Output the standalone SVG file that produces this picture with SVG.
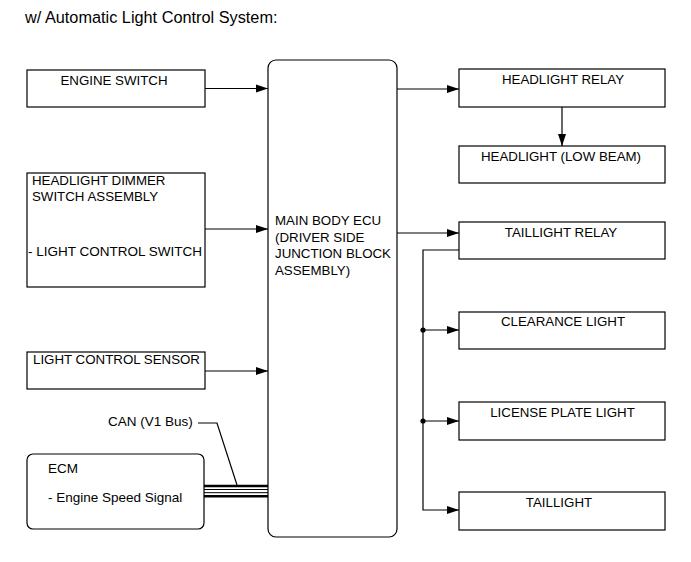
<svg xmlns="http://www.w3.org/2000/svg" width="691" height="562" viewBox="0 0 691 562">
<style>
text{font-family:"Liberation Sans",Arial,sans-serif;font-size:13.3px;fill:#000}
.box{fill:#fff;stroke:#000;stroke-width:1.2}
.c{text-anchor:middle}
.ln{fill:none;stroke:#000;stroke-width:1.2}
.bus{stroke:#000;fill:none}
</style>
<defs>
<marker id="ah" markerUnits="userSpaceOnUse" markerWidth="13" markerHeight="9" refX="12" refY="4.5" orient="auto">
<path d="M0,0.5 L12,4.5 L0,8.5 z" fill="#000"/>
</marker>
</defs>
<rect width="691" height="562" fill="#fff"/>
<text x="25" y="23" style="font-size:16.3px">w/ Automatic Light Control System:</text>

<g id="connectors">
<line class="ln" x1="205" y1="88.5" x2="268" y2="88.5" marker-end="url(#ah)"/>
<line class="ln" x1="205" y1="229" x2="268" y2="229" marker-end="url(#ah)"/>
<line class="ln" x1="205" y1="371" x2="268" y2="371" marker-end="url(#ah)"/>
<line class="ln" x1="397" y1="89" x2="459" y2="89" marker-end="url(#ah)"/>
<line class="ln" x1="562" y1="107" x2="562" y2="146" marker-end="url(#ah)"/>
<line class="ln" x1="397" y1="233" x2="459" y2="233" marker-end="url(#ah)"/>
<polyline class="ln" points="459,250 423,250 423,510 459,510" marker-end="url(#ah)"/>
<line class="ln" x1="423" y1="330" x2="459" y2="330" marker-end="url(#ah)"/>
<line class="ln" x1="423" y1="421" x2="459" y2="421" marker-end="url(#ah)"/>
<circle cx="423" cy="330" r="2.6" fill="#000"/>
<circle cx="423" cy="421" r="2.6" fill="#000"/>
<line class="bus" x1="204" y1="486" x2="268" y2="486" stroke-width="2.4"/>
<line class="bus" x1="204" y1="489.5" x2="268" y2="489.5" stroke-width="1"/>
<line class="bus" x1="204" y1="492.7" x2="268" y2="492.7" stroke-width="1"/>
<line class="bus" x1="204" y1="496.2" x2="268" y2="496.2" stroke-width="2.4"/>
<polyline class="ln" points="198,423 217,423 237,485" stroke-width="1"/>
<text x="108" y="426" style="font-size:13.5px">CAN (V1 Bus)</text>
</g>

<g id="engine-switch">
<rect class="box" x="27" y="70" width="178" height="37"/>
<text class="c" x="114" y="85">ENGINE SWITCH</text>
</g>
<g id="headlight-dimmer">
<rect class="box" x="27" y="173" width="178" height="114"/>
<text x="32" y="185">HEADLIGHT DIMMER</text>
<text x="32" y="200.5">SWITCH ASSEMBLY</text>
<text x="28" y="255.5" style="font-size:13.5px">- LIGHT CONTROL SWITCH</text>
</g>
<g id="light-control-sensor">
<rect class="box" x="27" y="352" width="178" height="37"/>
<text class="c" x="116.5" y="364">LIGHT CONTROL SENSOR</text>
</g>
<g id="ecm">
<rect class="box" x="27" y="454" width="177" height="75" rx="6"/>
<text x="48" y="473" style="font-size:13.5px">ECM</text>
<text x="48" y="502" style="font-size:13.5px">- Engine Speed Signal</text>
</g>
<g id="main-body-ecu">
<rect class="box" x="268" y="60" width="129" height="477" rx="8"/>
<text x="275" y="225">MAIN BODY ECU</text>
<text x="275" y="241.5">(DRIVER SIDE</text>
<text x="275" y="258">JUNCTION BLOCK</text>
<text x="275" y="274.5">ASSEMBLY)</text>
</g>
<g id="headlight-relay">
<rect class="box" x="459" y="69" width="206" height="38"/>
<text class="c" x="563" y="84">HEADLIGHT RELAY</text>
</g>
<g id="headlight-low-beam">
<rect class="box" x="459" y="146" width="206" height="37"/>
<text class="c" x="561" y="161">HEADLIGHT (LOW BEAM)</text>
</g>
<g id="taillight-relay">
<rect class="box" x="459" y="222" width="206" height="37"/>
<text class="c" x="561" y="237">TAILLIGHT RELAY</text>
</g>
<g id="clearance-light">
<rect class="box" x="459" y="312" width="206" height="37"/>
<text class="c" x="563" y="326">CLEARANCE LIGHT</text>
</g>
<g id="license-plate-light">
<rect class="box" x="459" y="402" width="206" height="38"/>
<text class="c" x="562.5" y="417">LICENSE PLATE LIGHT</text>
</g>
<g id="taillight">
<rect class="box" x="459" y="492" width="206" height="38"/>
<text class="c" x="559" y="507">TAILLIGHT</text>
</g>
</svg>
